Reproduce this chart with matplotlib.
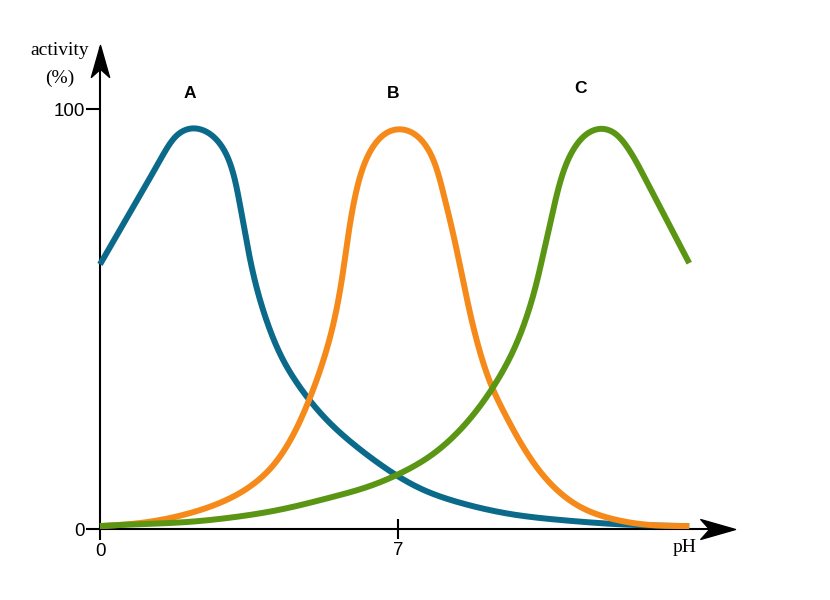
import numpy as np
import matplotlib
matplotlib.use("Agg")
from matplotlib import pyplot as plt
from matplotlib.path import Path

# activity (%) vs pH
ph_a = [0.0, 0.6, 1.2, 1.53, 1.83, 2.16, 2.54, 2.87, 3.10, 3.25, 3.41, 3.56,
        3.76, 3.99, 4.31, 4.58, 4.86, 5.40, 6.03, 6.58, 6.93, 7.59, 8.38,
        9.16, 9.55, 10.88, 12.45, 13.84]
act_a = [63.0, 73.5, 84.0, 89.5, 94.3, 95.7, 94.5, 91.0, 85.5, 79.0, 70.4, 62.5,
         54.5, 47.5, 40.0, 35.5, 31.5, 25.2, 19.6, 15.4, 13.0, 9.3, 6.5,
         4.5, 3.7, 2.1, 1.0, 0.7]

ph_b = [0.0, 0.94, 2.11, 3.05, 3.45, 3.99, 4.46, 4.86, 5.09, 5.40, 5.56, 5.72,
        5.87, 6.03, 6.19, 6.42, 6.73, 7.05, 7.36, 7.67, 7.91, 8.06, 8.22, 8.38,
        8.69, 8.93, 9.20, 9.55, 10.10, 10.5, 11.28, 12.05, 12.85, 13.84]
act_b = [0.7, 1.4, 3.8, 7.3, 9.6, 14.2, 21.0, 29.5, 35.5, 45.5, 52.5, 62.0,
         72.5, 80.7, 86.3, 91.0, 94.6, 95.4, 94.4, 91.0, 85.5, 79.9, 73.6, 66.4,
         51.5, 42.0, 33.9, 26.7, 17.0, 11.7, 5.2, 2.4, 1.0, 0.7]

ph_c = [0.0, 0.54, 2.11, 3.05, 4.23, 5.40, 6.34, 6.93, 7.75, 8.53, 9.24, 9.71,
        10.02, 10.26, 10.45, 10.65, 10.85, 11.12, 11.43, 11.75, 12.06, 12.37,
        12.76, 13.23, 13.84]
act_c = [0.7, 1.0, 1.7, 2.7, 4.6, 7.5, 10.2, 12.7, 17.3, 24.4, 33.9, 42.5,
         50.5, 58.8, 67.3, 76.0, 83.9, 90.2, 94.2, 95.6, 94.8, 90.8,
         84.2, 75.1, 63.3]

names = ['A', 'B', 'C']
label_pos = [(2.11, 103.8), (6.88, 103.8), (11.28, 104.8)]
colors = ['#0b6a8a', '#f58a1a', '#5a9614']

xticks_major = [0]
xticks_minor = [7]
yticks = [0, 100]

SX, SY = 42.57, 4.2   # pixels per pH unit / per % in the figure


def smooth_curve(x, y, lam=1000.0):
    # penalised (Whittaker) smoothing of the read points, parametrised by
    # chord length in pixel units so steep and flat parts are treated alike
    P = np.c_[np.asarray(x, float) * SX, np.asarray(y, float) * SY]
    s = np.r_[0, np.cumsum(np.hypot(*np.diff(P, axis=0).T))]
    n = int(s[-1]) + 1
    g = np.linspace(0, s[-1], n)
    m = len(s)
    W = np.zeros((m, n))
    for i, si in enumerate(s):
        j = min(np.searchsorted(g, si, side='right') - 1, n - 2)
        t = (si - g[j]) / (g[j + 1] - g[j])
        W[i, j] += 1 - t
        W[i, j + 1] += t
    w = np.ones(m)
    w[0] = w[-1] = 50.0
    D = np.diff(np.eye(n), 2, axis=0)
    A = W.T @ (w[:, None] * W) + lam * D.T @ D
    out = np.linalg.solve(A, W.T @ (w[:, None] * P))
    return out[:, 0] / SX, out[:, 1] / SY


# stealth arrow head, tip at the marker origin
head_r = Path([(0, 0), (-3.5, 1.0), (-2.6, 0), (-3.5, -1.0), (0, 0)],
              [Path.MOVETO, Path.LINETO, Path.LINETO, Path.LINETO, Path.CLOSEPOLY])
head_u = Path([(0, 0), (-1.0, -3.5), (0, -2.6), (1.0, -3.5), (0, 0)],
              [Path.MOVETO, Path.LINETO, Path.LINETO, Path.LINETO, Path.CLOSEPOLY])

fig = plt.figure(figsize=(8.3, 6), dpi=100)
# x: 0..15 -> px 100..738.6 ; y: 0..115 -> px 529..46
ax = fig.add_axes([100 / 830, 71 / 600, 638.6 / 830, 483 / 600])
ax.set_xlim(0, 15)
ax.set_ylim(0, 115)

for (px, py_), c in zip([(ph_a, act_a), (ph_b, act_b), (ph_c, act_c)], colors):
    xs, ys = smooth_curve(px, py_)
    ax.plot(xs, ys, color=c, lw=4.3, solid_capstyle='butt', clip_on=False, zorder=3)

for name, (lx, ly) in zip(names, label_pos):
    ax.text(lx, ly, name, ha='center', va='center', fontsize=12.5,
            fontweight='bold', family='Liberation Sans')

for s in ax.spines.values():
    s.set_visible(False)

# axes lines and arrow heads
ax.plot([0, 14.7], [0, 0], color='black', lw=1.5, clip_on=False, zorder=2)
ax.plot([0, 0], [0, 114.5], color='black', lw=1.5, clip_on=False, zorder=2)
ax.plot([14.92], [0], marker=head_r, markersize=50, color='black',
        clip_on=False, zorder=4)
ax.plot([0], [115.2], marker=head_u, markersize=46, color='black',
        clip_on=False, zorder=4)

ax.set_yticks(yticks)
ax.set_yticklabels([str(v) for v in yticks], family='Liberation Sans', fontsize=13.5)
ax.tick_params(axis='y', direction='out', length=10, width=1.5, pad=1)

ax.set_xticks(xticks_major)
ax.set_xticklabels([str(v) for v in xticks_major], family='Liberation Sans', fontsize=13.5)
ax.set_xticks(xticks_minor, minor=True)
ax.set_xticklabels([str(v) for v in xticks_minor], minor=True,
                   family='Liberation Sans', fontsize=13.5)
ax.tick_params(axis='x', which='major', direction='out', length=8, width=1.5, pad=2)
ax.tick_params(axis='x', which='minor', direction='inout', length=15, width=1.5, pad=2)

ax.text(-0.94, 114, 'activity', ha='center', va='center', fontsize=14,
        family='Liberation Serif')
ax.text(-0.94, 107.2, '(%)', ha='center', va='center', fontsize=14,
        family='Liberation Serif')
ax.text(13.74, -4.5, 'pH', ha='center', va='center', fontsize=14,
        family='Liberation Serif')

fig.savefig('out.png', dpi=100)
